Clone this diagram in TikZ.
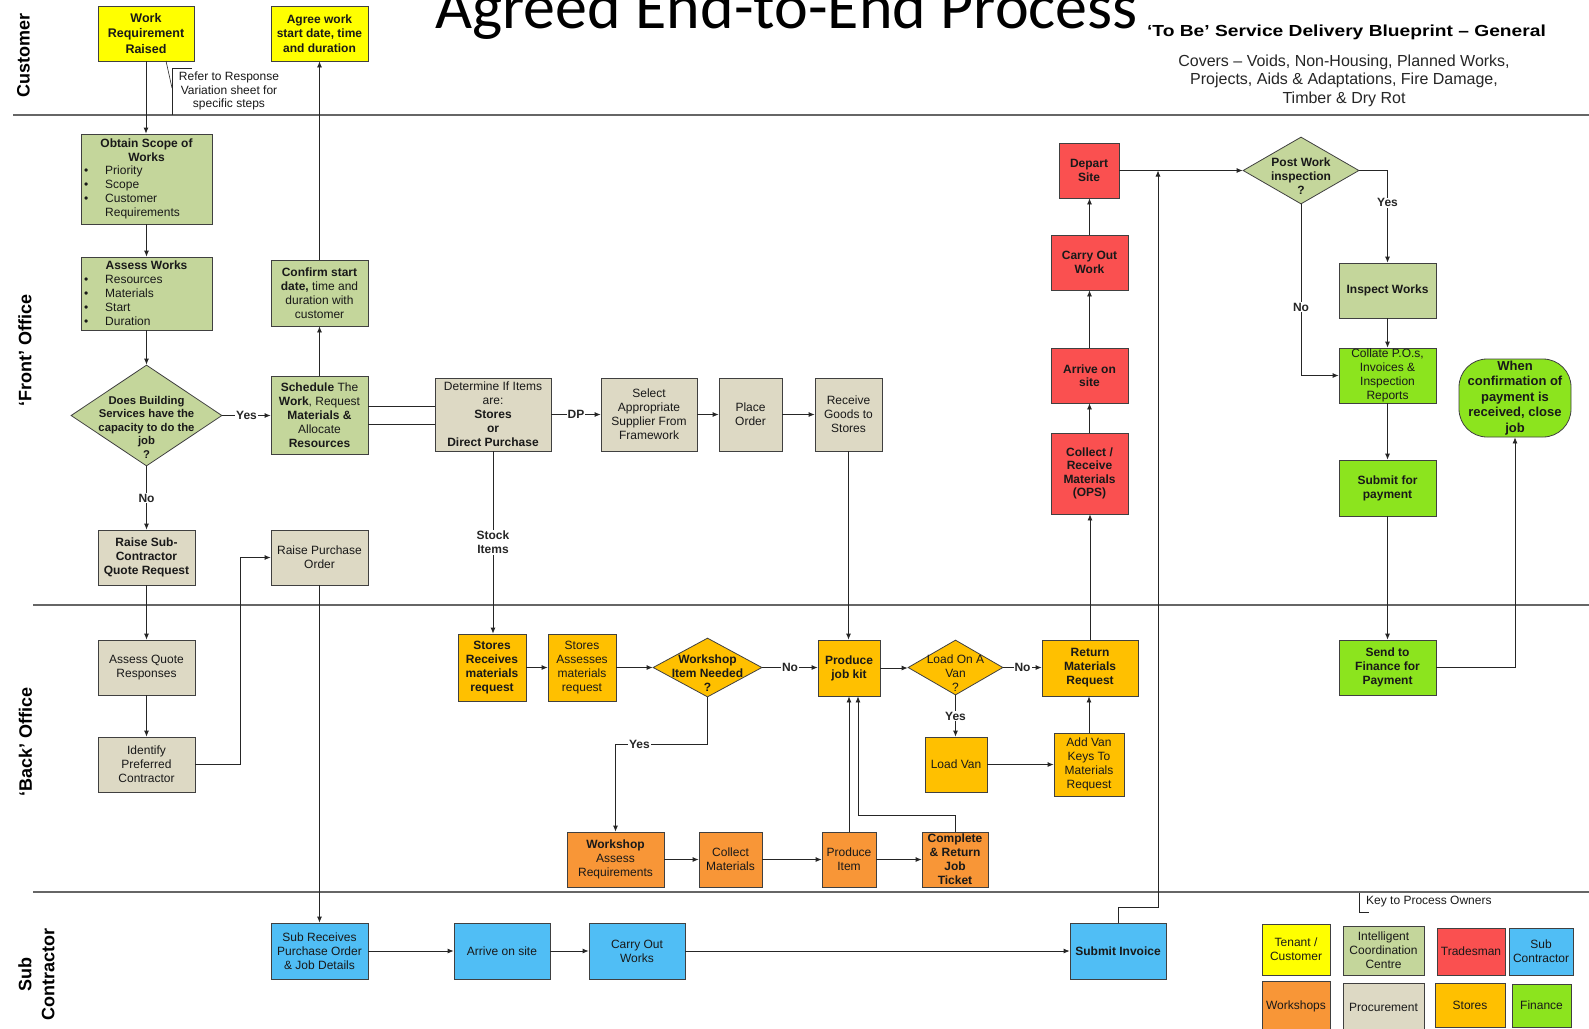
\documentclass[tikz,border=0pt]{standalone}
\usepackage{fontspec}
\setmainfont{Liberation Sans}
\newfontfamily\titlefont{Carlito}
\usetikzlibrary{arrows.meta,shapes.geometric}
\definecolor{cTen}{RGB}{255,255,0}
\definecolor{cICC}{RGB}{196,214,155}
\definecolor{cProc}{RGB}{221,217,196}
\definecolor{cTrade}{RGB}{250,80,80}
\definecolor{cSub}{RGB}{80,190,245}
\definecolor{cWork}{RGB}{248,150,55}
\definecolor{cStore}{RGB}{255,192,0}
\definecolor{cFin}{RGB}{140,228,30}
\newcommand\fs{\fontsize{12}{14}\selectfont}
\newcommand\bx[7]{\node[pbox,#6,minimum width={(#4)-(#2)},minimum height={(#5)-(#3)}] (#1) at ({((#2)+(#4))/2},{((#3)+(#5))/2}) {#7};}
\newcommand\bl[1]{\makebox[21pt][l]{\textbullet}#1}
\begin{document}
\begin{tikzpicture}[x=1pt,y=-1pt,
 pbox/.style={draw=black!75,line width=0.8pt,inner sep=0pt,align=center,font=\fs,text=black!90},
 dia/.style={shape=diamond,draw=black!75,line width=0.8pt,inner sep=0pt},
 txt/.style={inner sep=0pt,align=center,font=\fs,text=black!90},
 arr/.style={draw=black!85,line width=0.8pt,-{Latex[length=6pt,width=5pt]}},
 ln/.style={draw=black!85,line width=0.8pt},
 lbl/.style={fill=white,inner sep=1pt,font=\fs\bfseries,text=black!85},
 lane/.style={draw=black!60,line width=1.5pt},
 lanelbl/.style={rotate=90,align=center,inner sep=0pt,font=\fontsize{18}{23}\selectfont\bfseries}]

\useasboundingbox (0,0) rectangle (1589,1028);
\fill[white] (0,0) rectangle (1589,1028);
\clip (0,0) rectangle (1589,1028);

% swim lanes
\draw[lane] (13,115) -- (1589,115);
\draw[lane] (33,605) -- (1589,605);
\draw[lane] (33,892) -- (1589,892);
\node[lanelbl] (lcust) at (23.5,55) {Customer};
\node[lanelbl] (lfront) at (25,350) {‘Front’ Office};
\node[lanelbl] (lback) at (25.5,742) {‘Back’ Office};
\node[lanelbl] (lsub) at (36.5,974) {Sub\\Contractor};

% titles
\node[inner sep=0pt,anchor=base,font=\titlefont\fontsize{64}{64}\selectfont] (title) at (786.5,28) {Agreed End-to-End Process};
\node[inner sep=0pt] (sub1) at (1346.5,32) {\scalebox{1.2}[1]{\bfseries\fontsize{16}{18}\selectfont ‘To Be’ Service Delivery Blueprint – General}};
\node[inner sep=0pt,align=center,font=\fontsize{16}{18.5}\selectfont,text=black!85] (sub2) at (1344,80.5) {Covers – Voids, Non-Housing, Planned Works,\\Projects, Aids \& Adaptations, Fire Damage,\\Timber \& Dry Rot};

% customer lane
\bx{wrr}{98}{6}{194}{61}{fill=cTen,font=\fontsize{12.5}{15.5}\selectfont\bfseries}{Work\\Requirement\\Raised}
\bx{agree}{271}{6}{368}{61}{fill=cTen,font=\fontsize{12}{14.5}\selectfont\bfseries}{Agree work\\start date, time\\and duration}
\coordinate (rfA) at (166,61);
\coordinate (rfB) at (172,88);
\draw[ln,line width=0.6pt] (rfA) -- (rfB);
\draw[ln,line width=0.6pt] (192,68) -- (172,68) -- (172,115);
\node[txt,font=\fontsize{12}{13.5}\selectfont] (refer) at (229,91) {Refer to Response\\Variation sheet for\\specific steps};

% front office
\bx{obtain}{81}{134}{212}{224}{fill=cICC}{}
\node[txt,font=\fs\bfseries] (obtainT) at (146.5,150) {Obtain Scope of\\Works};
\node[txt,anchor=west,align=left] (obtainL) at (84,192) {\bl{Priority}\\\bl{Scope}\\\bl{Customer}\\\makebox[21pt]{}Requirements};
\bx{assess}{81}{257}{212}{330}{fill=cICC}{}
\node[txt,font=\fs\bfseries] (assessT) at (146.5,265) {Assess Works};
\node[txt,anchor=west,align=left] (assessL) at (84,300) {\bl{Resources}\\\bl{Materials}\\\bl{Start}\\\bl{Duration}};
\bx{confirm}{271}{260}{368}{326}{fill=cICC}{\textbf{Confirm start}\\\textbf{date,} time and\\duration with\\customer}
\node[dia,fill=cICC,minimum width=151,minimum height=101] (dbs) at (146.5,415.5) {};
\node[txt,font=\fontsize{11.3}{13.5}\selectfont\bfseries] (dbsT) at (146.5,427) {Does Building\\Services have the\\capacity to do the\\job\\?};
\bx{sched}{271}{376}{368}{454}{fill=cICC}{\textbf{Schedule} The\\\textbf{Work}, Request\\\textbf{Materials \&}\\Allocate\\\textbf{Resources}}
\bx{determine}{435}{378}{551}{451}{fill=cProc}{Determine If Items\\are:\\\textbf{Stores}\\\textbf{or}\\\textbf{Direct Purchase}}
\bx{select}{601}{378}{697}{451}{fill=cProc}{Select\\Appropriate\\Supplier From\\Framework}
\bx{place}{719}{378}{782}{451}{fill=cProc}{Place\\Order}
\bx{receive}{815}{378}{882}{451}{fill=cProc}{Receive\\Goods to\\Stores}
\bx{rsc}{98}{530}{195}{585}{fill=cProc,font=\fs\bfseries}{Raise Sub-\\Contractor\\Quote Request}
\bx{rpo}{271}{530}{368}{585}{fill=cProc}{Raise Purchase\\Order}

% red column
\bx{ds}{1059}{143}{1119}{198}{fill=cTrade,font=\fontsize{12}{13.5}\selectfont\bfseries}{Depart\\Site}
\bx{cow}{1051}{235}{1128}{290}{fill=cTrade,font=\fontsize{12}{13.5}\selectfont\bfseries}{Carry Out\\Work}
\bx{aos}{1051}{348}{1128}{403}{fill=cTrade,font=\fontsize{12}{13.5}\selectfont\bfseries}{Arrive on\\site}
\bx{crm}{1051}{433}{1128}{514}{fill=cTrade,font=\fontsize{12}{13.5}\selectfont\bfseries}{Collect /\\Receive\\Materials\\(OPS)}

% inspection & finance
\node[dia,fill=cICC,minimum width=116,minimum height=67] (pwi) at (1301,170.5) {};
\node[txt,font=\fs\bfseries] (pwiT) at (1301,176) {Post Work\\inspection\\?};
\bx{iw}{1339}{263}{1436}{318}{fill=cICC,font=\fs\bfseries}{Inspect Works}
\bx{collate}{1339}{348}{1436}{403}{fill=cFin}{Collate P.O.s,\\Invoices \&\\Inspection\\Reports}
\bx{sfp}{1339}{460}{1436}{516}{fill=cFin,font=\fs\bfseries}{Submit for\\payment}
\bx{stf}{1339}{640}{1436}{695}{fill=cFin,font=\fs\bfseries}{Send to\\Finance for\\Payment}
\node[pbox,fill=cFin,rounded corners=28pt,minimum width=112,minimum height=78,font=\fontsize{13}{15.4}\selectfont\bfseries] (close) at (1515,398) {When\\confirmation of\\payment is\\received, close\\job};

% back office
\bx{aqr}{98}{640}{195}{695}{fill=cProc}{Assess Quote\\Responses}
\bx{ipc}{98}{737}{195}{792}{fill=cProc}{Identify\\Preferred\\Contractor}
\bx{sr}{458}{634}{526}{701}{fill=cStore,font=\fs\bfseries}{Stores\\Receives\\materials\\request}
\bx{sa}{548}{634}{616}{701}{fill=cStore}{Stores\\Assesses\\materials\\request}
\node[dia,fill=cStore,minimum width=109,minimum height=59] (wd) at (707.5,667.5) {};
\node[txt,font=\fs\bfseries] (wdT) at (707.5,673) {Workshop\\Item Needed\\?};
\bx{pjk}{818}{640}{880}{696}{fill=cStore,font=\fs\bfseries}{Produce\\job kit}
\node[dia,fill=cStore,minimum width=95,minimum height=55] (lv) at (955.5,667.5) {};
\node[txt] (lvT) at (955.5,673) {Load On A\\Van\\?};
\bx{rmr}{1042}{640}{1138}{696}{fill=cStore,font=\fs\bfseries}{Return\\Materials\\Request}
\bx{loadvan}{925}{737}{987}{792}{fill=cStore}{Load Van}
\bx{addvan}{1054}{733}{1124}{796}{fill=cStore}{Add Van\\Keys To\\Materials\\Request}
\bx{wa}{567}{832}{664}{887}{fill=cWork}{\textbf{Workshop}\\Assess\\Requirements}
\bx{cm}{699}{832}{762}{887}{fill=cWork}{Collect\\Materials}
\bx{pi}{822}{832}{876}{887}{fill=cWork}{Produce\\Item}
\bx{crj}{922}{832}{988}{887}{fill=cWork,font=\fs\bfseries}{Complete\\\& Return\\Job\\Ticket}

% sub contractor
\bx{sub}{271}{923}{368}{979}{fill=cSub}{Sub Receives\\Purchase Order\\\& Job Details}
\bx{arrive2}{454}{923}{550}{979}{fill=cSub}{Arrive on site}
\bx{carry2}{589}{923}{685}{979}{fill=cSub}{Carry Out\\Works}
\bx{invoice}{1070}{923}{1166}{979}{fill=cSub,font=\fs\bfseries}{Submit Invoice}

% key
\draw[ln,line width=0.6pt] (1359,893) -- (1359,912) -- (1369,912);
\node[txt,anchor=west] (keyT) at (1366,902) {Key to Process Owners};
\bx{k1}{1262}{924}{1330}{975}{fill=cTen}{Tenant /\\Customer}
\bx{k2}{1343}{926}{1424}{975}{fill=cICC}{Intelligent\\Coordination\\Centre}
\bx{k3}{1437}{928}{1505}{975}{fill=cTrade}{Tradesman}
\bx{k4}{1509}{928}{1573}{975}{fill=cSub}{Sub\\Contractor}
\bx{k5}{1262}{981}{1330}{1032}{fill=cWork}{Workshops}
\bx{k6}{1343}{983}{1424}{1032}{fill=cProc}{Procurement}
\bx{k7}{1435}{983}{1505}{1027}{fill=cStore}{Stores}
\bx{k8}{1512}{984}{1571}{1027}{fill=cFin}{Finance}

% helper coordinates
\coordinate (y406) at (0,406);
\coordinate (y424) at (0,424);
\coordinate (jn) at (1158,907);
\coordinate (c815) at (858,815);

% connectors
\draw[arr] (wrr.south) -- (wrr.south |- obtain.north);
\draw[arr] (obtain.south) -- (obtain.south |- assess.north);
\draw[arr] (assess.south) -- (dbs.north);
\draw[arr] (dbs.east) -- (dbs.east -| sched.west) node[lbl,midway] {Yes};
\draw[arr] (dbs.south) -- (dbs.south |- rsc.north) node[lbl,midway] {No};
\draw[arr] (sched.north) -- (sched.north |- confirm.south);
\draw[arr] (confirm.north) -- (confirm.north |- agree.south);
\draw[ln] (sched.east |- y406) -- (determine.west |- y406);
\draw[ln] (sched.east |- y424) -- (determine.west |- y424);
\draw[arr] (determine.east) -- (determine.east -| select.west) node[lbl,midway] {DP};
\draw[arr] (select.east) -- (select.east -| place.west);
\draw[arr] (place.east) -- (place.east -| receive.west);
\draw[arr] (receive.south) -- (receive.south |- pjk.north);
\draw[arr] (determine.south) -- (determine.south |- sr.north) node[lbl,midway,align=center] {Stock\\Items};
\draw[arr] (rsc.south) -- (rsc.south |- aqr.north);
\draw[arr] (aqr.south) -- (aqr.south |- ipc.north);
\draw[arr] (ipc.east) -- ++(45,0) |- (rpo.west);
\draw[arr] (rpo.south) -- (rpo.south |- sub.north);
\draw[arr] (sub.east) -- (sub.east -| arrive2.west);
\draw[arr] (arrive2.east) -- (arrive2.east -| carry2.west);
\draw[arr] (carry2.east) -- (carry2.east -| invoice.west);
\draw[arr] (invoice.north) |- (jn) -- (jn |- ds.east);
\draw[arr] (sr.east) -- (sr.east -| sa.west);
\draw[arr] (sa.east) -- (sa.east -| wd.west);
\draw[arr] (wd.east) -- (wd.east -| pjk.west) node[lbl,midway] {No};
\draw[arr] (pjk.east) -- (pjk.east -| lv.west);
\draw[arr] (lv.east) -- (lv.east -| rmr.west) node[lbl,midway] {No};
\draw[arr] (lv.south) -- (lv.south |- loadvan.north) node[lbl,midway] {Yes};
\draw[arr] (loadvan.east) -- (loadvan.east -| addvan.west);
\draw[arr] (addvan.north) -- (addvan.north |- rmr.south);
\draw[arr] (rmr.north) -- (rmr.north |- crm.south);
\draw[arr] (crm.north) -- (crm.north |- aos.south);
\draw[arr] (aos.north) -- (aos.north |- cow.south);
\draw[arr] (cow.north) -- (cow.north |- ds.south);
\draw[arr] (ds.east) -- (pwi.west);
\draw[arr] (wd.south) -- ++(0,47) -| (wa.north) node[lbl,pos=0.37] {Yes};
\draw[arr] (wa.east) -- (wa.east -| cm.west);
\draw[arr] (cm.east) -- (cm.east -| pi.west);
\draw[arr] (pi.east) -- (pi.east -| crj.west);
\draw[arr] (pi.north) -- (pi.north |- pjk.south);
\draw[arr] (crj.north) |- (c815) -- (c815 |- pjk.south);
\draw[arr] (pwi.east) -| (iw.north) node[lbl,pos=0.675] {Yes};
\draw[arr] (pwi.south) |- (collate.west) node[lbl,pos=0.3] {No};
\draw[arr] (iw.south) -- (iw.south |- collate.north);
\draw[arr] (collate.south) -- (collate.south |- sfp.north);
\draw[arr] (sfp.south) -- (sfp.south |- stf.north);
\draw[arr] (stf.east) -| (close.south);
\end{tikzpicture}
\end{document}
